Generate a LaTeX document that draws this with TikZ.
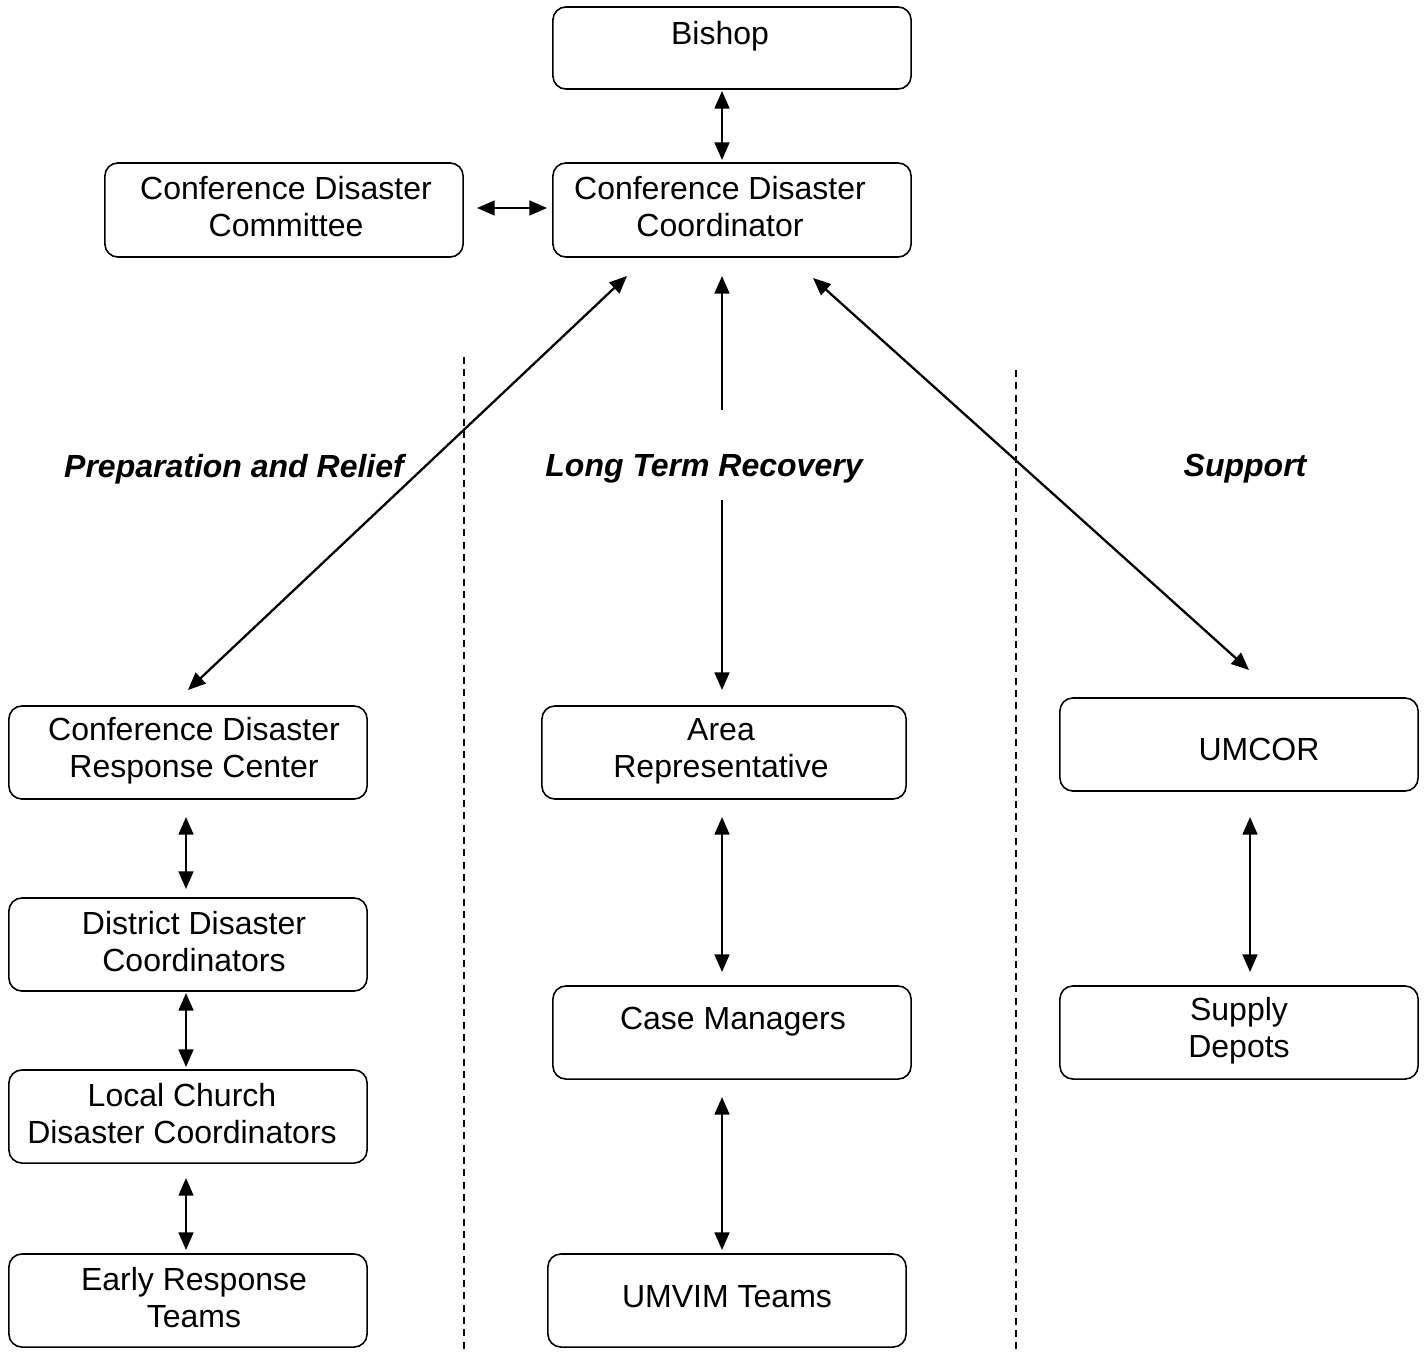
\documentclass[tikz,border=0pt]{standalone}
\usepackage{fontspec}
\setmainfont{Liberation Sans}
\usetikzlibrary{arrows.meta}
\begin{document}
\begin{tikzpicture}[x=0.01cm,y=-0.01cm,
  box/.style={draw, line width=0.45pt, rounded corners=0.13cm, minimum width=#1, inner sep=0pt},
  box/.default=3.58cm,
  txt/.style={align=center, font=\fontsize{9.1pt}{10.5pt}\selectfont, inner sep=0pt},
  lab/.style={font=\fontsize{9.1pt}{10.5pt}\selectfont\bfseries\itshape, inner sep=0pt},
  tip/.style={Triangle[length=5pt,width=4.2pt]},
  conn/.style={line width=0.65pt, {Triangle[length=5pt,width=4.2pt]}-{Triangle[length=5pt,width=4.2pt]}},
  sep/.style={line width=0.45pt, dash pattern=on 2pt off 1.5pt}]
\useasboundingbox (0,0) rectangle (1425,1352);
% boxes
\node[box, minimum height=0.82cm] (bishop) at (732,48) {};
\node[box, minimum height=0.94cm] (coord) at (732,210) {};
\node[box, minimum height=0.94cm] (comm) at (284,210) {};
\node[box, minimum height=0.93cm] (resp) at (188,752.5) {};
\node[box, minimum height=0.93cm] (dist) at (188,944.5) {};
\node[box, minimum height=0.93cm] (local) at (188,1116.5) {};
\node[box, minimum height=0.93cm] (early) at (188,1300.5) {};
\node[box=3.64cm, minimum height=0.93cm] (area) at (724,752.5) {};
\node[box, minimum height=0.93cm] (case) at (732,1032.5) {};
\node[box, minimum height=0.93cm] (umvim) at (727,1300.5) {};
\node[box, minimum height=0.93cm] (umcor) at (1239,744.5) {};
\node[box, minimum height=0.93cm] (supply) at (1239,1032.5) {};
% texts
\node[txt] (tbishop) at (720,36) {Bishop};
\node[txt] (tcoord) at (720,207) {Conference Disaster\\Coordinator};
\node[txt] (tcomm) at (286,207) {Conference Disaster\\Committee};
\node[txt] (tresp) at (194,751) {Conference Disaster\\Response Center};
\node[txt] (tdist) at (194,942) {District Disaster\\Coordinators};
\node[txt] (tlocal) at (182,1114) {Local Church\\Disaster Coordinators};
\node[txt] (tearly) at (194,1298) {Early Response\\Teams};
\node[txt] (tarea) at (721,751) {Area\\Representative};
\node[txt] (tcase) at (733,1022) {Case Managers};
\node[txt] (tumvim) at (727,1297) {UMVIM Teams};
\node[txt] (tumcor) at (1259,749) {UMCOR};
\node[txt] (tsupply) at (1239,1031) {Supply\\Depots};
% section labels
\node[lab] (l1) at (234,469) {Preparation and Relief};
\node[lab] (l2) at (704,469) {Long Term Recovery};
\node[lab] (l3) at (1245,469) {Support};
% separators
\coordinate (s1a) at (464,357); \coordinate (s1b) at (464,1352);
\coordinate (s2a) at (1016,370); \coordinate (s2b) at (1016,1352);
\draw[sep] (s1a) -- (s1b);
\draw[sep] (s2a) -- (s2b);
% arrow end points
\coordinate (a1) at (722,91); \coordinate (a2) at (722,160);
\coordinate (b1) at (477,208); \coordinate (b2) at (547,208);
\coordinate (c1) at (627,276); \coordinate (c2) at (188,690);
\coordinate (d1) at (722,276); \coordinate (d2) at (722,690);
\coordinate (e1) at (813,278); \coordinate (e2) at (1249,670);
\coordinate (f1) at (186,817); \coordinate (f2) at (186,889);
\coordinate (g1) at (186,993); \coordinate (g2) at (186,1067);
\coordinate (h1) at (186,1178); \coordinate (h2) at (186,1250);
\coordinate (i1) at (722,817); \coordinate (i2) at (722,972);
\coordinate (j1) at (722,1097); \coordinate (j2) at (722,1250);
\coordinate (k1) at (1250,817); \coordinate (k2) at (1250,972);
\coordinate (dm1) at (722,410); \coordinate (dm2) at (722,500);
\draw[conn] (a1) -- (a2);
\draw[conn] (b1) -- (b2);
\draw[conn] (c1) -- (c2);
\draw[line width=0.65pt, {Triangle[length=5pt,width=4.2pt]}-] (d1) -- (dm1);
\draw[line width=0.65pt, -{Triangle[length=5pt,width=4.2pt]}] (dm2) -- (d2);
\draw[conn] (e1) -- (e2);
\draw[conn] (f1) -- (f2);
\draw[conn] (g1) -- (g2);
\draw[conn] (h1) -- (h2);
\draw[conn] (i1) -- (i2);
\draw[conn] (j1) -- (j2);
\draw[conn] (k1) -- (k2);
\end{tikzpicture}
\end{document}
